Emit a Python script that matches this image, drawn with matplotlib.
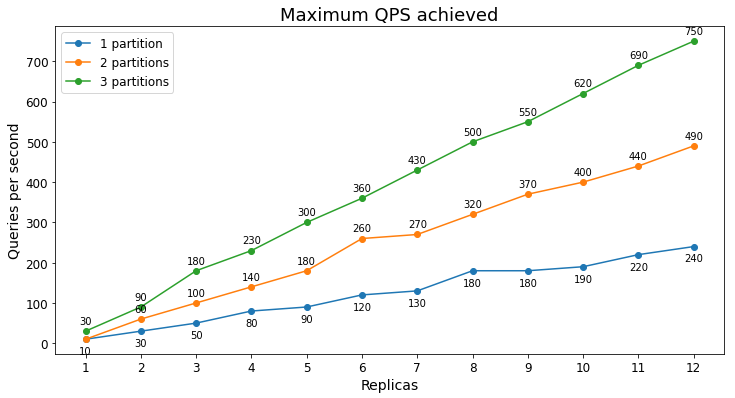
import matplotlib
matplotlib.use("Agg")
import matplotlib.pyplot as plt

replicas = list(range(1, 13))
qps_1 = [10, 30, 50, 80, 90, 120, 130, 180, 180, 190, 220, 240]
qps_2 = [10, 60, 100, 140, 180, 260, 270, 320, 370, 400, 440, 490]
qps_3 = [30, 90, 180, 230, 300, 360, 430, 500, 550, 620, 690, 750]

fig, ax = plt.subplots(figsize=(10.21, 5.54), dpi=72)
fig.subplots_adjust(left=0.075, right=0.985, top=0.932, bottom=0.11)

ax.plot(replicas, qps_1, marker="o", label="1 partition")
ax.plot(replicas, qps_2, marker="o", label="2 partitions")
ax.plot(replicas, qps_3, marker="o", label="3 partitions")

# blue labels under the points, others above
for x, y in zip(replicas, qps_1):
    ax.annotate(str(y), (x, y), textcoords="offset points", xytext=(0, -15), ha="center", fontsize=10)
for x, y in zip(replicas[1:], qps_2[1:]):
    ax.annotate(str(y), (x, y), textcoords="offset points", xytext=(0, 7), ha="center", fontsize=10)
for x, y in zip(replicas, qps_3):
    ax.annotate(str(y), (x, y), textcoords="offset points", xytext=(0, 7), ha="center", fontsize=10)

ax.set_xticks(replicas)
ax.tick_params(labelsize=12)
ax.set_xlabel("Replicas", fontsize=14)
ax.set_ylabel("Queries per second", fontsize=14)
ax.set_title("Maximum QPS achieved", fontsize=18)
ax.legend(loc="upper left", fontsize=12)

fig.savefig("out.png", dpi=72)
